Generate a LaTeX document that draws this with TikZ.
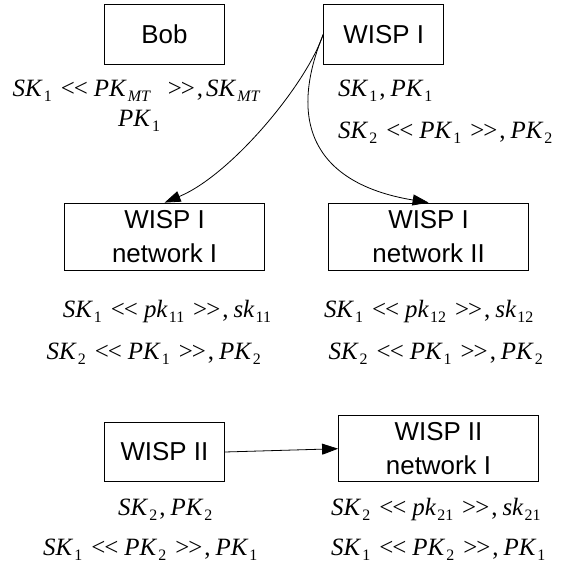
\documentclass[tikz,border=0pt]{standalone}
\usepackage{fontspec}
\setmainfont{Liberation Sans}
\newfontfamily\tms{Liberation Serif}
\usetikzlibrary{arrows.meta}
\newcommand\ky[2]{\textit{#1}\kern1bp\raisebox{-5bp}{\fontsize{16}{16}\selectfont#2}\kern2bp}
\newcommand\ltl{\kern7bp{<}\kern-1bp{<}\kern6bp}
\newcommand\gtg{\kern7bp{>}\kern-1bp{>}\kern2bp}
\newcommand\sep{,\kern5bp}
\tikzset{
 box/.style={draw,line width=0.8bp,inner sep=0pt,align=center,font=\fontsize{26}{34}\selectfont},
 lbl/.style={anchor=base west,inner sep=0pt,font=\tms\fontsize{25}{30}\selectfont},
 arr/.style={line width=0.8bp,-{Triangle[length=16bp,width=11bp]}}
}
\begin{document}
\begin{tikzpicture}[x=1bp,y=-1bp]
 \useasboundingbox (0,0) rectangle (561,563);
 \node[box,minimum width=120bp,minimum height=60bp] (bob) at (164.4,34.2) {Bob};
 \node[box,minimum width=120bp,minimum height=60bp] (wisp1) at (383.7,34.2) {WISP I};
 \node[box,minimum width=200bp,minimum height=67bp] (net11) at (164.6,236.5) {WISP I\\network I};
 \node[box,minimum width=200bp,minimum height=67bp] (net12) at (428.6,236.5) {WISP I\\network II};
 \node[box,minimum width=120bp,minimum height=59bp] (wisp2) at (164.4,452) {WISP II};
 \node[box,minimum width=200bp,minimum height=66bp] (net21) at (438.5,448.7) {WISP II\\network I};
 \node[lbl] (bobk1) at (12.5,97) {\ky{SK}{1}\ltl\ky{PK}{\textit{MT}}\kern8bp\gtg,\kern3bp\ky{SK}{\textit{MT}}};
 \node[lbl] (bobk2) at (118,127) {\ky{PK}{1}};
 \node[lbl] (wisp1k1) at (338,97) {\ky{SK}{1}\sep\ky{PK}{1}};
 \node[lbl] (wisp1k2) at (338,139) {\ky{SK}{2}\ltl\ky{PK}{1}\gtg\sep\ky{PK}{2}};
 \node[lbl] (net11k1) at (62.6,317) {\ky{SK}{1}\ltl\ky{pk}{11}\gtg\sep\ky{sk}{11}};
 \node[lbl] (net11k2) at (46.5,359) {\ky{SK}{2}\ltl\ky{PK}{1}\gtg\sep\ky{PK}{2}};
 \node[lbl] (net12k1) at (323.8,317) {\ky{SK}{1}\ltl\ky{pk}{12}\gtg\sep\ky{sk}{12}};
 \node[lbl] (net12k2) at (328.4,359) {\ky{SK}{2}\ltl\ky{PK}{1}\gtg\sep\ky{PK}{2}};
 \node[lbl] (wisp2k1) at (118,515) {\ky{SK}{2}\sep\ky{PK}{2}};
 \node[lbl] (wisp2k2) at (43,555) {\ky{SK}{1}\ltl\ky{PK}{2}\gtg\sep\ky{PK}{1}};
 \node[lbl] (net21k1) at (331,515) {\ky{SK}{2}\ltl\ky{pk}{21}\gtg\sep\ky{sk}{21}};
 \node[lbl] (net21k2) at (331,555) {\ky{SK}{1}\ltl\ky{PK}{2}\gtg\sep\ky{PK}{1}};
 \draw[arr] (wisp1.west) .. controls (306,85) and (231,175) .. (net11.north);
 \draw[arr] (wisp1.west) .. controls (284,130) and (322,185) .. (net12.north);
 \draw[arr] (wisp2.east) -- (net21.west);
\end{tikzpicture}
\end{document}
